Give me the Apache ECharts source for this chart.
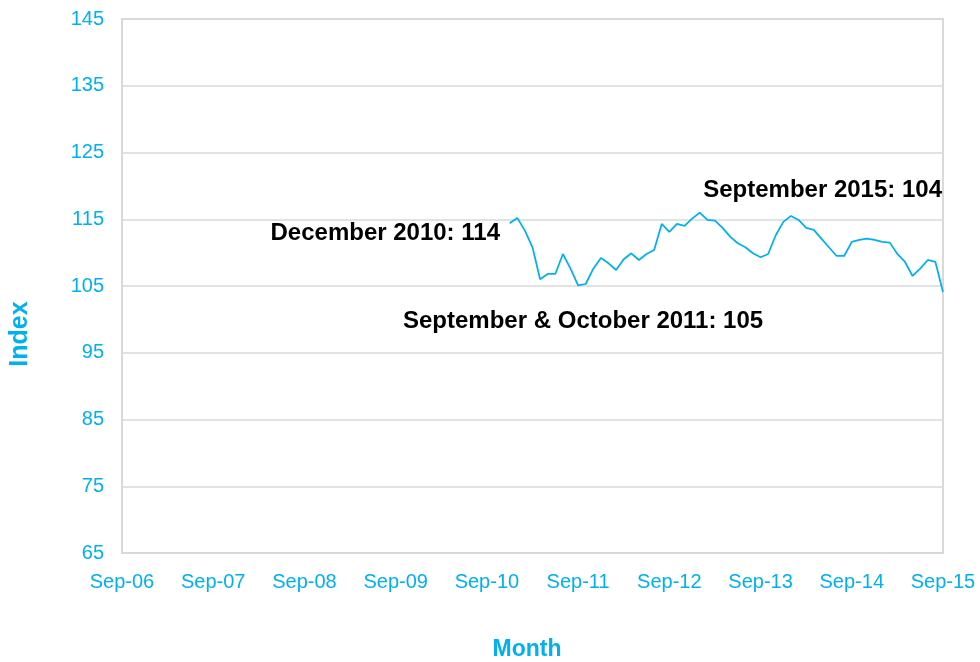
<!DOCTYPE html>
<html>
<head>
<meta charset="utf-8">
<script src="https://cdn.jsdelivr.net/npm/echarts@6/dist/echarts.min.js"></script>
<style>
html, body { margin: 0; padding: 0; background: #fff; }
#chart { width: 980px; height: 662px; }
</style>
</head>
<body>
<div id="chart"></div>
<script>
// axis range: monthly categories Sep-06 .. Sep-15
var monthNames = ['Jan','Feb','Mar','Apr','May','Jun','Jul','Aug','Sep','Oct','Nov','Dec'];
var firstMonth = { year: 2006, month: 8 };
var lastMonth = { year: 2015, month: 8 };
var yearTicks = ['Sep-06','Sep-07','Sep-08','Sep-09','Sep-10','Sep-11','Sep-12','Sep-13','Sep-14','Sep-15'];

// index values, Dec-10 .. Sep-15
var seriesStart = 'Dec-10';
var indexValues = [
    114.4, 115.2, 113.3, 110.8, 106.0, 106.8, 106.8, 109.8, 107.6, 105.1,
    105.3, 107.6, 109.2, 108.4, 107.4, 109.0, 109.9, 108.9, 109.8, 110.4,
    114.3, 113.1, 114.3, 114.0, 115.1, 116.0, 114.9, 114.8, 113.7, 112.4,
    111.4, 110.8, 109.9, 109.3, 109.8, 112.6, 114.6, 115.5, 114.9, 113.7,
    113.4, 112.1, 110.8, 109.5, 109.5, 111.6, 111.9, 112.1, 111.9, 111.6,
    111.5, 109.8, 108.6, 106.5, 107.6, 108.9, 108.6, 104.1
];

var yMin = 65, yMax = 145, yStep = 10;

var notes = [
    { text: 'December 2010: 114', x: 500, y: 233, align: 'right' },
    { text: 'September & October 2011: 105', x: 403, y: 321, align: 'left' },
    { text: 'September 2015: 104', x: 942, y: 190, align: 'right' }
];

var blue = '#00b0f0';
var font = '"Liberation Sans", Arial, sans-serif';

var categories = [];
for (var y = firstMonth.year, m = firstMonth.month; y < lastMonth.year || (y == lastMonth.year && m <= lastMonth.month); ) {
    categories.push(monthNames[m] + '-' + String(y).slice(2));
    m++;
    if (m > 11) { m = 0; y++; }
}

var startIdx = categories.indexOf(seriesStart);
var lineData = categories.map(function (c, i) {
    var k = i - startIdx;
    return (k >= 0 && k < indexValues.length) ? indexValues[k] : null;
});

var graphics = notes.map(function (n) {
    return {
        type: 'text',
        x: n.x,
        y: n.y,
        style: {
            text: n.text,
            fill: '#000',
            font: 'bold 24px ' + font,
            align: n.align,
            verticalAlign: 'middle'
        }
    };
});
graphics.push({
    type: 'text',
    x: 20,
    y: 334,
    rotation: Math.PI / 2,
    style: { text: 'Index', fill: blue, font: 'bold 25px ' + font, align: 'center', verticalAlign: 'middle' }
});
graphics.push({
    type: 'text',
    x: 527,
    y: 650,
    style: { text: 'Month', fill: blue, font: 'bold 23px ' + font, align: 'center', verticalAlign: 'middle' }
});

var chart = echarts.init(document.getElementById('chart'));
chart.setOption({
    animation: false,
    backgroundColor: '#fff',
    grid: {
        left: 122,
        right: 37,
        top: 19,
        bottom: 109,
        show: true,
        borderColor: '#d9d9d9',
        borderWidth: 2
    },
    xAxis: {
        type: 'category',
        data: categories,
        boundaryGap: false,
        axisLine: { show: false },
        axisTick: { show: false },
        splitLine: { show: false },
        axisLabel: {
            interval: 11,
            color: blue,
            fontSize: 20,
            fontFamily: font,
            margin: 19,
            formatter: function (v) { return yearTicks.indexOf(v) >= 0 ? v : ''; }
        }
    },
    yAxis: {
        type: 'value',
        min: yMin,
        max: yMax,
        interval: yStep,
        axisLine: { show: false },
        axisTick: { show: false },
        splitLine: { lineStyle: { color: '#d9d9d9', width: 1.5 } },
        axisLabel: { color: blue, fontSize: 20, fontFamily: font, margin: 18 }
    },
    series: [{
        type: 'line',
        data: lineData,
        showSymbol: false,
        connectNulls: false,
        lineStyle: { color: blue, width: 1.75 },
        itemStyle: { color: blue }
    }],
    graphic: graphics
});
</script>
</body>
</html>
